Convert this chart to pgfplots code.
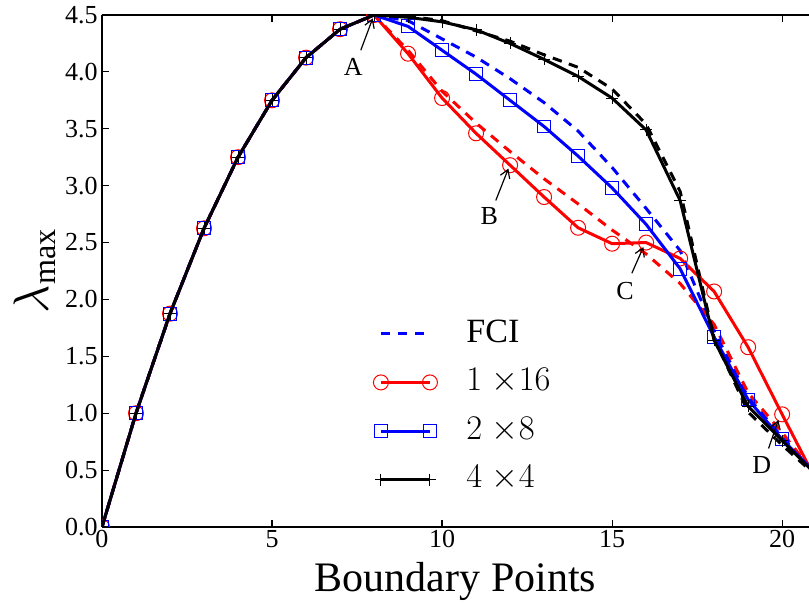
\documentclass[border=0pt]{standalone}
\usepackage{fontspec}
\setmainfont{Liberation Serif}
\usepackage{pgfplots}
\usepackage{pgfplotstable}
\pgfplotsset{compat=1.18}
\usetikzlibrary{arrows.meta}

% columns: FCI curves (dashed) and the three partitions
\pgfplotstableread{
x   fcir   fcib   fcik   r16   b28   k44
0   0      0      0      0     0     0
1   1.0    1.0    1.0    1.0   1.0   1.0
2   1.875  1.875  1.875  1.875 1.875 1.875
3   2.625  2.625  2.625  2.625 2.625 2.625
4   3.25   3.25   3.25   3.25  3.25  3.25
5   3.75   3.75   3.75   3.75  3.75  3.75
6   4.125  4.125  4.125  4.125 4.125 4.125
7   4.375  4.375  4.375  4.375 4.375 4.375
8   4.5    4.5    4.5    4.5   4.5   4.5
9   4.19   4.45   4.49   4.16  4.40  4.48
10  3.83   4.29   4.45   3.77  4.19  4.44
11  3.55   4.13   4.36   3.46  3.98  4.37
12  3.30   3.94   4.27   3.18  3.75  4.25
13  3.06   3.73   4.15   2.90  3.52  4.11
14  2.84   3.48   4.04   2.63  3.26  3.96
15  2.61   3.16   3.85   2.49  2.98  3.77
16  2.40   2.80   3.54   2.50  2.66  3.49
17  2.14   2.43   2.95   2.36  2.27  2.87
18  1.78   1.72   1.66   2.07  1.67  1.64
19  1.18   1.14   1.01   1.58  1.12  1.06
20  0.83   0.79   0.72   0.99  0.77  0.76
21  0.45   0.46   0.45   0.41  0.47  0.46
}\lamtab

\begin{document}
\begin{tikzpicture}
\begin{axis}[
    scale only axis,
    width=353.5pt, height=256pt,
    xmin=0, xmax=20.79, ymin=0, ymax=4.5,
    axis x line*=box, axis y line*=left,
    x axis line style={-}, y axis line style={-},
    axis line style={line width=0.7pt, black},
    tick align=inside, major tick length=3.5pt,
    tick style={line width=0.6pt, black},
    clip marker paths=true,
    xtick={0,5,10,15,20},
    ytick={0,0.5,1,1.5,2,2.5,3,3.5,4,4.5},
    yticklabel style={/pgf/number format/fixed, /pgf/number format/fixed zerofill,
        /pgf/number format/precision=1, inner sep=2pt},
    /pgf/number format/assume math mode=true,
    ticklabel style={font=\fontsize{13}{15}\selectfont},
    xticklabel style={inner sep=1.5pt},
    xlabel={Boundary Points},
    ylabel={$\lambda_{\mathrm{max}}$},
    label style={font=\fontsize{21}{25}\selectfont},
    xlabel style={yshift=-2pt},
    ylabel style={font=\fontsize{23}{27}\selectfont, yshift=-1pt},
    legend cell align=left,
    legend image code/.code={\draw[#1] plot coordinates {(0pt,0pt) (24.5pt,0pt)};},
    legend style={at={(axis cs:7.97,1.915)}, anchor=north west, draw=none, fill=none,
        inner sep=0pt, row sep=0pt,
        font=\fontsize{17}{20}\selectfont,
        nodes={text height=12.3pt, text depth=4pt, inner ysep=4pt},
        /tikz/every odd column/.append style={column sep=12.5pt}},
    every axis plot/.append style={line width=1.5pt},
]
\addplot[blue, dash pattern=on 4.75pt off 3.75pt] table[x=x, y=fcib] {\lamtab};
\addlegendentry{FCI}
\addplot[red, dash pattern=on 4.75pt off 3.75pt, forget plot] table[x=x, y=fcir] {\lamtab};
\addplot[black, dash pattern=on 4.75pt off 3.75pt, forget plot] table[x=x, y=fcik] {\lamtab};
\addplot[red, mark=o, mark size=3.75pt, mark options={solid, line width=0.5pt, fill=none}] table[x=x, y=r16] {\lamtab};
\addlegendentry{$1\;{\times}16$}
\addplot[blue, mark=square, mark size=3.2pt, mark options={solid, line width=0.5pt, fill=none}] table[x=x, y=b28] {\lamtab};
\addlegendentry{$2\;{\times}8$}
\addplot[black, mark=+, mark size=3pt, mark options={solid, line width=0.5pt}] table[x=x, y=k44] {\lamtab};
\addlegendentry{$4\;{\times}4$}

% annotations
\node[font=\fontsize{13}{15}\selectfont] at (axis cs:7.39,4.04) {A};
\draw[line width=0.6pt, -{Straight Barb[length=4pt,width=5pt]}] (axis cs:7.61,4.19) -- (axis cs:7.96,4.47);
\node[font=\fontsize{13}{15}\selectfont] at (axis cs:11.39,2.73) {B};
\draw[line width=0.6pt, -{Straight Barb[length=4pt,width=5pt]}] (axis cs:11.58,2.87) -- (axis cs:11.95,3.15);
\node[font=\fontsize{13}{15}\selectfont] at (axis cs:15.38,2.07) {C};
\draw[line width=0.6pt, -{Straight Barb[length=4pt,width=5pt]}] (axis cs:15.58,2.23) -- (axis cs:15.92,2.46);
\node[font=\fontsize{13}{15}\selectfont] at (axis cs:19.40,0.545) {D};
\draw[line width=0.6pt, -{Straight Barb[length=4pt,width=5pt]}] (axis cs:19.60,0.69) -- (axis cs:19.89,0.94);

\coordinate (bl) at (rel axis cs:0,0);
\coordinate (tr) at (rel axis cs:1,1);
\end{axis}
\pgfresetboundingbox
\useasboundingbox ([xshift=-51pt,yshift=-40pt]bl) rectangle ([yshift=7.5pt]tr);
\end{tikzpicture}
\end{document}
